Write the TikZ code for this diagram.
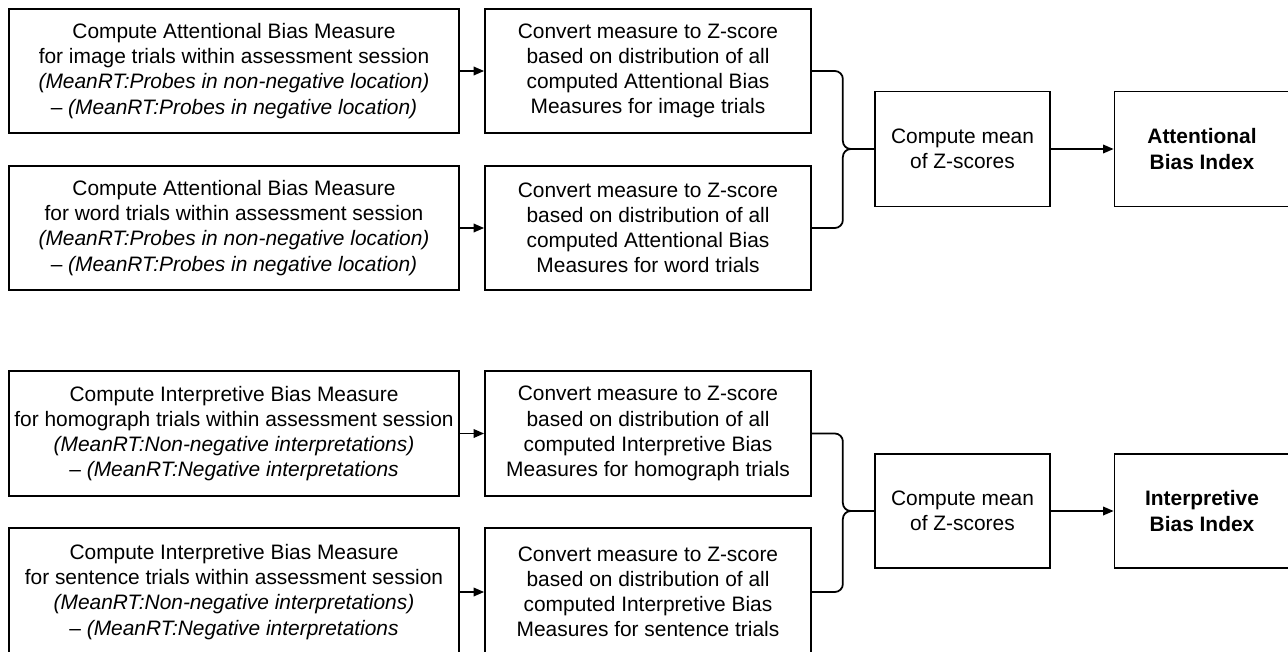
\documentclass[tikz,border=0pt]{standalone}
\usepackage{fontspec}
\setmainfont{Liberation Sans}
\usetikzlibrary{arrows.meta}

\tikzset{
  box/.style={draw, line width=1pt, align=center, inner sep=0pt,
    font=\fontsize{11.9}{14.3}\selectfont},
  arr/.style={line width=1pt, -{Triangle[length=0.21cm,width=0.17cm]}},
  curly/.style={line width=1pt}
}

\begin{document}
\begin{tikzpicture}[x=0.02cm,y=-0.02cm]
  \useasboundingbox (0,0) rectangle (1288,652);

  % attentional bias, measures
  \node[box, minimum width=9cm, minimum height=2.48cm] (a1) at (234,71)
    {Compute Attentional Bias Measure\\for image trials within assessment session\\
     \textit{(MeanRT:Probes in non-negative location)}\\
     – \textit{(MeanRT:Probes in negative location)}};
  \node[box, minimum width=9cm, minimum height=2.48cm] (a2) at (234,228)
    {Compute Attentional Bias Measure\\for word trials within assessment session\\
     \textit{(MeanRT:Probes in non-negative location)}\\
     – \textit{(MeanRT:Probes in negative location)}};

  % z-scores
  \node[box, minimum width=6.52cm, minimum height=2.48cm] (b1) at (648,71)
    {Convert measure to Z-score\\based on distribution of all\\computed Attentional Bias\\Measures for image trials};
  \node[box, minimum width=6.52cm, minimum height=2.48cm] (b2) at (648,228)
    {Convert measure to Z-score\\based on distribution of all\\computed Attentional Bias\\Measures for word trials};

  % mean and index
  \node[box, minimum width=3.5cm, minimum height=2.3cm] (c1) at (962.5,149) {Compute mean\\of Z-scores};
  \node[box, minimum width=3.5cm, minimum height=2.3cm] (d1) at (1202,149) {\textbf{Attentional}\\\textbf{Bias Index}};

  % interpretive bias, measures
  \node[box, minimum width=9cm, minimum height=2.5cm] (e1) at (234,433.5)
    {Compute Interpretive Bias Measure\\for homograph trials within assessment session\\
     \textit{(MeanRT:Non-negative interpretations)}\\
     – \textit{(MeanRT:Negative interpretations}};
  \node[box, minimum width=9cm, minimum height=2.56cm] (e2) at (234,592)
    {Compute Interpretive Bias Measure\\for sentence trials within assessment session\\
     \textit{(MeanRT:Non-negative interpretations)}\\
     – \textit{(MeanRT:Negative interpretations}};

  \node[box, minimum width=6.52cm, minimum height=2.5cm] (f1) at (648,433.5)
    {Convert measure to Z-score\\based on distribution of all\\computed Interpretive Bias\\Measures for homograph trials};
  \node[box, minimum width=6.52cm, minimum height=2.56cm] (f2) at (648,592)
    {Convert measure to Z-score\\based on distribution of all\\computed Interpretive Bias\\Measures for sentence trials};

  \node[box, minimum width=3.5cm, minimum height=2.28cm] (c2) at (962.5,511) {Compute mean\\of Z-scores};
  \node[box, minimum width=3.5cm, minimum height=2.28cm] (d2) at (1202,511) {\textbf{Interpretive}\\\textbf{Bias Index}};

  % arrows
  \foreach \s/\t in {a1/b1, a2/b2, e1/f1, e2/f2, c1/d1, c2/d2} {
    \draw[arr] (\s.east) -- (\t.west);
  }

  % braces
  \draw[curly] (b1.east) -- ++(23,0) to[out=0,in=90] ++(8,8) -- ++(0,62)
    to[out=-90,in=180] ++(8,8) -- (c1.west);
  \draw[curly] (b2.east) -- ++(23,0) to[out=0,in=-90] ++(8,-8) -- ++(0,-63)
    to[out=90,in=180] ++(8,-8);
  \draw[curly] (f1.east) -- ++(23,0) to[out=0,in=90] ++(8,8) -- ++(0,61.5)
    to[out=-90,in=180] ++(8,8) -- (c2.west);
  \draw[curly] (f2.east) -- ++(23,0) to[out=0,in=-90] ++(8,-8) -- ++(0,-65)
    to[out=90,in=180] ++(8,-8);

\end{tikzpicture}
\end{document}
